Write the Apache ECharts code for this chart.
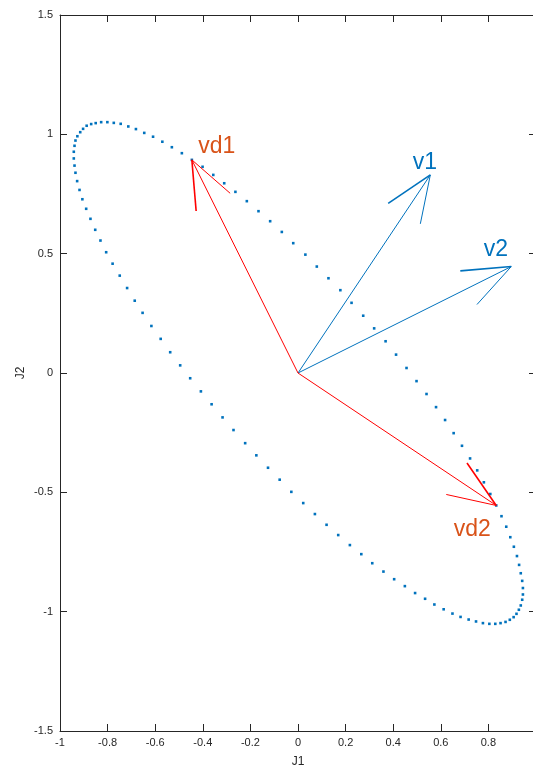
<!DOCTYPE html>
<html>
<head>
<meta charset="utf-8">
<title>J1 / J2</title>
<script src="https://cdn.jsdelivr.net/npm/echarts@6/dist/echarts.min.js"></script>
<style>
    html, body { margin: 0; padding: 0; background: #fff; }
    #main-container { width: 533px; height: 767px; }
</style>
</head>
<body>
<div id="main-container"></div>
<script>
// 坐标轴范围与刻度
let xRange = [-1, 1];
let yRange = [-1.5, 1.5];
let xStep = 0.2;
let yStep = 0.5;

// 椭圆上的点
let ellipsePoints = [
    [-0.446, 0.893], [-0.401, 0.864], [-0.356, 0.830], [-0.310, 0.795], [-0.263, 0.759],
    [-0.215, 0.720], [-0.166, 0.678], [-0.117, 0.636], [-0.068, 0.591], [-0.020, 0.544],
    [0.031, 0.496], [0.079, 0.446], [0.128, 0.397], [0.178, 0.347], [0.225, 0.294],
    [0.274, 0.240], [0.320, 0.187], [0.368, 0.133], [0.412, 0.077], [0.456, 0.021],
    [0.498, -0.034], [0.540, -0.088], [0.580, -0.143], [0.618, -0.197], [0.654, -0.252],
    [0.689, -0.305], [0.723, -0.358], [0.753, -0.408], [0.781, -0.458], [0.808, -0.507],
    [0.833, -0.555], [0.855, -0.600], [0.875, -0.644], [0.892, -0.688], [0.907, -0.728],
    [0.920, -0.767], [0.929, -0.804], [0.936, -0.839], [0.942, -0.871], [0.945, -0.901],
    [0.945, -0.928], [0.942, -0.950], [0.936, -0.974], [0.928, -0.992], [0.918, -1.009],
    [0.906, -1.023], [0.890, -1.034], [0.872, -1.043], [0.851, -1.048], [0.829, -1.051],
    [0.804, -1.051], [0.777, -1.048], [0.748, -1.041], [0.717, -1.033], [0.683, -1.022],
    [0.649, -1.008], [0.612, -0.990], [0.573, -0.970], [0.534, -0.946], [0.492, -0.922],
    [0.449, -0.893], [0.404, -0.864], [0.359, -0.832], [0.312, -0.797], [0.266, -0.759],
    [0.218, -0.721], [0.169, -0.679], [0.120, -0.636], [0.071, -0.591], [0.022, -0.545],
    [-0.028, -0.498], [-0.077, -0.447], [-0.126, -0.397], [-0.175, -0.345], [-0.222, -0.294],
    [-0.271, -0.239], [-0.317, -0.186], [-0.363, -0.131], [-0.408, -0.077], [-0.453, -0.022],
    [-0.495, 0.032], [-0.537, 0.087], [-0.577, 0.143], [-0.616, 0.197], [-0.653, 0.252],
    [-0.686, 0.303], [-0.718, 0.356], [-0.749, 0.408], [-0.779, 0.458], [-0.806, 0.506],
    [-0.830, 0.555], [-0.852, 0.600], [-0.872, 0.646], [-0.890, 0.688], [-0.906, 0.728],
    [-0.918, 0.767], [-0.928, 0.804], [-0.935, 0.839], [-0.939, 0.869], [-0.942, 0.899],
    [-0.942, 0.927], [-0.939, 0.952], [-0.935, 0.974], [-0.927, 0.992], [-0.915, 1.009],
    [-0.903, 1.023], [-0.888, 1.036], [-0.869, 1.043], [-0.850, 1.047], [-0.827, 1.051],
    [-0.801, 1.051], [-0.774, 1.048], [-0.745, 1.044], [-0.713, 1.033], [-0.681, 1.022],
    [-0.646, 1.006], [-0.609, 0.990], [-0.570, 0.969], [-0.530, 0.946], [-0.488, 0.921]
];

// 向量：起点、终点、箭头两边的端点
let origin = [0, 0];
let v1Tip = [0.556, 0.830];
let v1Head = [[0.379, 0.711], [0.514, 0.625]];
let v2Tip = [0.896, 0.446];
let v2Head = [[0.682, 0.428], [0.752, 0.287]];
let vd1Tip = [-0.446, 0.893];
let vd1Head = [[-0.428, 0.679], [-0.285, 0.753]];
let vd2Tip = [0.833, -0.555];
let vd2Head = [[0.710, -0.377], [0.623, -0.509]];

// 文字标注
let labelNames = ['v1', 'v2', 'vd1', 'vd2'];
let labelPos = [[0.482, 0.881], [0.780, 0.516], [-0.419, 0.948], [0.654, -0.658]];

let blue = '#0072BD';
let orange = '#D95319';
let red = '#FF0000';
let axisColor = '#262626';
let fontFamily = '"Liberation Sans", Arial, Helvetica, sans-serif';

/**
 * 一个箭头 = 杆 + 两条箭头边（第一条较粗）
 */
function arrowLines(tip, head, color) {
    return [
        {coords: [origin, tip], lineStyle: {color: color, width: 1, opacity: 1}},
        {coords: [tip, head[0]], lineStyle: {color: color, width: 1.6, opacity: 1}},
        {coords: [tip, head[1]], lineStyle: {color: color, width: 1, opacity: 1}}
    ];
}

let axisCommon = {
    type: 'value',
    splitLine: {show: false},
    axisLine: {show: true, onZero: false, lineStyle: {color: axisColor, width: 1}},
    axisTick: {show: true, inside: true, length: 7, lineStyle: {color: axisColor}},
    nameTextStyle: {color: axisColor, fontSize: 12, fontFamily: fontFamily},
    axisLabel: {color: axisColor, fontSize: 11, fontFamily: fontFamily}
};

let labelData = [];
for (let i = 0; i < labelNames.length; i++) {
    labelData.push({
        name: labelNames[i],
        value: labelPos[i],
        label: {color: i < 2 ? blue : orange}
    });
}

let option = {
    animation: false,
    grid: {left: 60, right: -3, top: 15, bottom: 36, outerBoundsMode: 'none', containLabel: false},
    xAxis: [
        Object.assign({}, axisCommon, {
            min: xRange[0], max: xRange[1], interval: xStep, position: 'bottom',
            name: 'J1', nameLocation: 'middle', nameGap: 25,
            axisLabel: Object.assign({}, axisCommon.axisLabel, {margin: 6})
        }),
        Object.assign({}, axisCommon, {
            min: xRange[0], max: xRange[1], interval: xStep, position: 'top',
            axisLabel: {show: false}
        })
    ],
    yAxis: [
        Object.assign({}, axisCommon, {
            min: yRange[0], max: yRange[1], interval: yStep, position: 'left',
            name: 'J2', nameLocation: 'middle', nameGap: 33, nameMoveOverlap: false,
            axisLabel: Object.assign({}, axisCommon.axisLabel, {margin: 7})
        }),
        Object.assign({}, axisCommon, {
            min: yRange[0], max: yRange[1], interval: yStep, position: 'right',
            axisLabel: {show: false}
        })
    ],
    series: [
        {
            name: 'ellipse',
            type: 'scatter',
            symbol: 'rect',
            symbolSize: 2.6,
            itemStyle: {color: blue, opacity: 1},
            data: ellipsePoints,
            silent: true,
            z: 2
        },
        {
            name: 'v',
            type: 'lines',
            coordinateSystem: 'cartesian2d',
            lineStyle: {opacity: 1},
            data: arrowLines(v1Tip, v1Head, blue).concat(arrowLines(v2Tip, v2Head, blue)),
            silent: true,
            z: 3
        },
        {
            name: 'vd',
            type: 'lines',
            coordinateSystem: 'cartesian2d',
            lineStyle: {opacity: 1},
            data: arrowLines(vd1Tip, vd1Head, red).concat(arrowLines(vd2Tip, vd2Head, red)),
            silent: true,
            z: 3
        },
        {
            name: 'labels',
            type: 'scatter',
            symbolSize: 0,
            itemStyle: {opacity: 1},
            data: labelData,
            label: {
                show: true,
                position: 'right',
                distance: 0,
                formatter: '{b}',
                fontSize: 23,
                fontFamily: fontFamily
            },
            silent: true,
            z: 4
        }
    ]
};

let myChart = echarts.init(document.getElementById('main-container'));
myChart.setOption(option);
</script>
</body>
</html>
